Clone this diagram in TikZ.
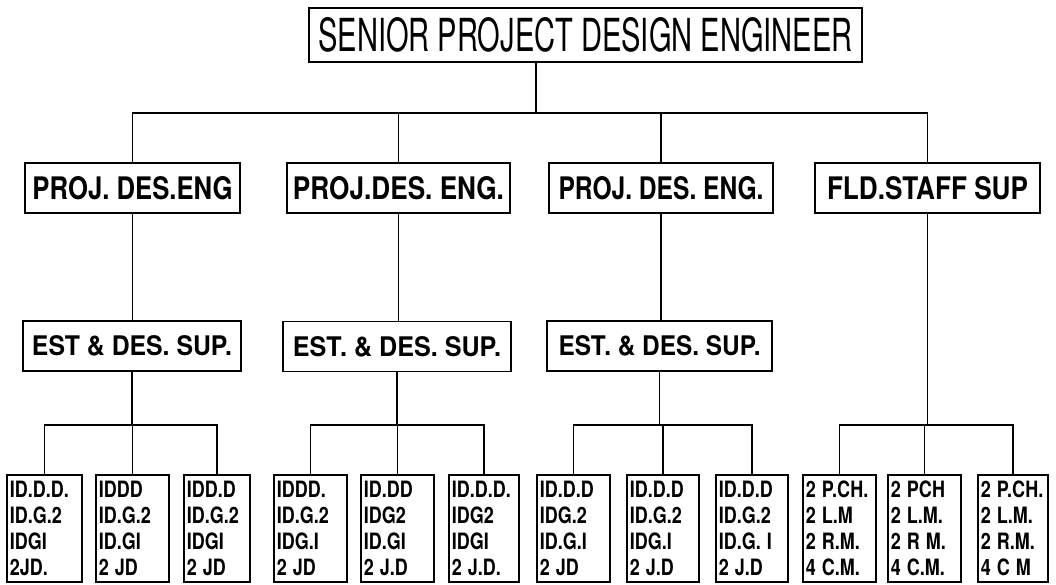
\documentclass[tikz,border=0pt]{standalone}
\usepackage{fontspec}
\setmainfont{TeX Gyre Heros}
\newcommand\fittext[3]{\resizebox{#1pt}{#2pt}{#3}}
\newcommand\sx[1]{\scalebox{0.8}[1]{#1}}
\begin{document}
\begin{tikzpicture}[x=1pt,y=-1pt,
  box/.style={draw, line width=1.8pt, inner sep=0pt, minimum height=50pt, font=\bfseries},
  lowbox/.style={draw, line width=1.8pt, inner xsep=3pt, inner ysep=0pt,
    minimum height=107pt, align=left, text width=#1,
    font=\fontsize{22.5}{26}\selectfont\bfseries, anchor=north west},
  link/.style={line width=1.4pt}]
\useasboundingbox[fill=white] (0,0) rectangle (1056,585);

% top
\node[box, minimum width=553pt, minimum height=54pt, font=\mdseries] (top) at (585.5,35)
  {\fittext{534}{34}{SENIOR PROJECT DESIGN ENGINEER}};

% second level
\node[box, minimum width=215pt] (p1) at (132.5,188) {\fittext{200}{23}{PROJ. DES.ENG}};
\node[box, minimum width=223pt] (p2) at (398.5,188) {\fittext{211}{23}{PROJ.DES. ENG.}};
\node[box, minimum width=224pt] (p3) at (661,188) {\fittext{205}{23}{PROJ. DES. ENG.}};
\node[box, minimum width=225pt] (p4) at (927.5,188) {\fittext{201}{23}{FLD.STAFF SUP}};

% third level
\node[box, minimum width=218pt] (e1) at (132,346) {\fittext{200}{20}{EST \& DES. SUP.}};
\node[box, minimum width=228pt] (e2) at (397,346.5) {\fittext{208}{20}{EST. \& DES. SUP.}};
\node[box, minimum width=225pt] (e3) at (659.5,346) {\fittext{202}{20}{EST. \& DES. SUP.}};

% bottom level
\node[lowbox=69pt] (b11) at (6,474) {\sx{ID.D.D.}\\\sx{ID.G.2}\\\sx{IDGI}\\\sx{2JD.}};
\node[lowbox=67pt] (b12) at (95,474) {\sx{IDDD}\\\sx{ID.G.2}\\\sx{ID.GI}\\\sx{2 JD}};
\node[lowbox=60pt] (b13) at (183,474) {\sx{IDD.D}\\\sx{ID.G.2}\\\sx{IDGI}\\\sx{2 JD}};

\node[lowbox=67pt] (b21) at (273,474) {\sx{IDDD.}\\\sx{ID.G.2}\\\sx{IDG.I}\\\sx{2 JD}};
\node[lowbox=67pt] (b22) at (360,474) {\sx{ID.DD}\\\sx{IDG2}\\\sx{ID.GI}\\\sx{2 J.D}};
\node[lowbox=64pt] (b23) at (448,474) {\sx{ID.D.D.}\\\sx{IDG2}\\\sx{IDGI}\\\sx{2 J.D.}};

\node[lowbox=67pt] (b31) at (536,474) {\sx{ID.D.D}\\\sx{IDG.2}\\\sx{ID.G.I}\\\sx{2 JD}};
\node[lowbox=66pt] (b32) at (626,474) {\sx{ID.D.D}\\\sx{ID.G.2}\\\sx{IDG.I}\\\sx{2 J.D}};
\node[lowbox=66pt] (b33) at (715,474) {\sx{ID.D.D}\\\sx{ID.G.2}\\\sx{ID.G. I}\\\sx{2 J.D}};

\node[lowbox=67pt] (b41) at (802,474) {\sx{2 P.CH.}\\\sx{2 L.M}\\\sx{2 R.M.}\\\sx{4 C.M.}};
\node[lowbox=67pt] (b42) at (887,474) {\sx{2 PCH}\\\sx{2 L.M.}\\\sx{2 R M.}\\\sx{4 C.M.}};
\node[lowbox=64pt] (b43) at (977,474) {\sx{2 P.CH.}\\\sx{2 L.M.}\\\sx{2 R.M.}\\\sx{4 C M}};

% connectors
\coordinate (busT) at (0,113);
\coordinate (busB) at (0,425);
\coordinate (tj) at ([xshift=-49.5pt]top.south);
\draw[link] (tj) -- (tj |- busT);
\draw[link] (p1.north) |- (p4.north |- busT) -- (p4.north);
\draw[link] (p2.north) -- (p2.north |- busT);
\draw[link] (p3.north) -- (p3.north |- busT);

\draw[link] (p1.south) -- (p1.south |- e1.north);
\draw[link] (p2.south) -- (p2.south |- e2.north);
\draw[link] (p3.south) -- (p3.south |- e3.north);

\draw[link] (e1.south) -- (e1.south |- busB);
\draw[link] (e2.south) -- (e2.south |- busB);
\draw[link] (e3.south) -- (e3.south |- busB);
\draw[link] (p4.south) -- (p4.south |- busB);

\draw[link] (b11.north) |- (b13.north |- busB) -- (b13.north);
\draw[link] (b12.north) -- (b12.north |- busB);
\draw[link] (b21.north) |- (b23.north |- busB) -- (b23.north);
\draw[link] (b22.north) -- (b22.north |- busB);
\draw[link] (b31.north) |- (b33.north |- busB) -- (b33.north);
\draw[link] (b32.north) -- (b32.north |- busB);
\draw[link] (b41.north) |- (b43.north |- busB) -- (b43.north);
\draw[link] (b42.north) -- (b42.north |- busB);
\end{tikzpicture}
\end{document}
